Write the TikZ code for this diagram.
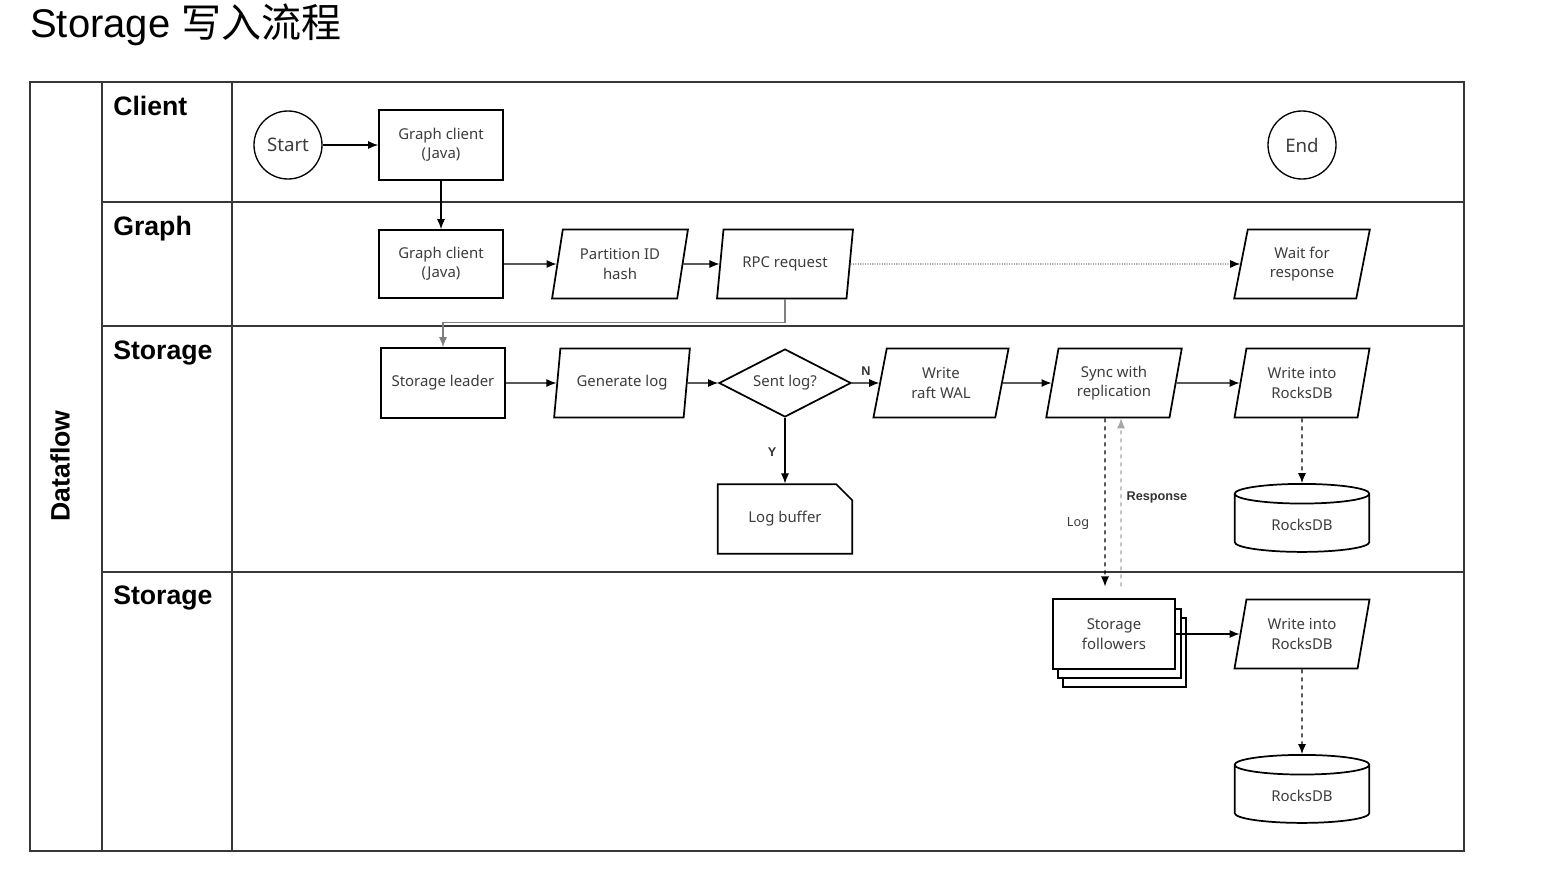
\documentclass[tikz,border=0pt]{standalone}
\usepackage{fontspec}
\setmainfont{Noto Sans}
\newfontfamily\titlefont{Liberation Sans}
\newfontfamily\headfont{Liberation Sans}
\newfontfamily\cjk{Noto Sans CJK SC}
\usetikzlibrary{shapes.geometric,shapes.misc,arrows.meta,shadows}

\definecolor{txtgray}{RGB}{60,60,60}
\definecolor{lanegray}{RGB}{55,55,55}

\tikzset{
	proc/.style={draw, line width=1.3pt, rectangle, minimum width=93pt, minimum height=52.5pt, align=center, text=txtgray, font=\fontsize{11.2}{14.5}\selectfont},
	io/.style={proc, trapezium, trapezium left angle=78, trapezium right angle=102, trapezium stretches=true, minimum width=102pt, minimum height=51.75pt},
	term/.style={proc, circle, minimum size=51pt, inner sep=0pt, line width=1pt, font=\fontsize{14}{16}\selectfont},
	decide/.style={proc, diamond, aspect=2, inner sep=1pt, minimum width=99pt, minimum height=51pt},
	db/.style={proc, cylinder, shape border rotate=90, aspect=0.28, minimum width=101pt, minimum height=51pt},
	lanelabel/.style={anchor=base west, inner sep=0pt, font=\fontsize{20}{22}\headfont\bfseries},
	small/.style={text=txtgray, font=\fontsize{9.5}{11}\selectfont},
	smallbold/.style={text=black!80, font=\fontsize{9.5}{11}\headfont\bfseries},
	arr/.style={-{Latex[length=7.5pt,width=6pt]}, line width=0.8pt},
}

\begin{document}
\begin{tikzpicture}[x=0.75pt,y=0.75pt,yscale=-1,xscale=1]
	\useasboundingbox (0,0) rectangle (1556,881);

	% Title
	\node [anchor=base west, inner sep=0pt, font=\fontsize{30}{34}\selectfont] (title) at (30,38) {\titlefont Storage \cjk 写入流程};

	% Lanes
	\draw [lanegray, line width=1.3pt] (30,82) rectangle (1464,851);
	\draw [lanegray, line width=1.3pt] (102,82) -- (102,851);
	\draw [lanegray, line width=1.3pt] (232,82) -- (232,851);
	\draw [lanegray, line width=1.3pt] (102,202) -- (1464,202);
	\draw [lanegray, line width=1.3pt] (102,326) -- (1464,326);
	\draw [lanegray, line width=1.3pt] (102,572) -- (1464,572);

	\node [rotate=90, font=\fontsize{20}{22}\headfont\bfseries] (flow) at (60,466) {Dataflow};
	\node [lanelabel] (lclient) at (113,115) {Client};
	\node [lanelabel] (lgraph) at (113,235) {Graph};
	\node [lanelabel] (lstore) at (113,359) {Storage};
	\node [lanelabel] (lfollow) at (113,604) {Storage};

	% Client lane
	\node [term] (start) at (288,145) {Start};
	\node [proc] (gclient) at (441,145) {Graph client\\(Java)};
	\node [term] (finish) at (1302,145) {End};

	% Graph lane
	\node [proc, minimum height=51pt] (gservice) at (441,264) {Graph client\\(Java)};
	\node [io] (hash) at (620,264) {Partition ID\\hash};
	\node [io] (rpc) at (785,264) {RPC request};
	\node [io] (wait) at (1302,264) {Wait for\\response};

	% Storage leader lane
	\node [proc] (leader) at (443,383) {Storage leader};
	\node [io] (genlog) at (622,383) {Generate log};
	\node [decide] (sent) at (785,383) {Sent log?};
	\node [io] (wal) at (941,383) {Write\\raft WAL};
	\node [io] (sync) at (1114,383) {Sync with\\replication};
	\node [io] (write) at (1302,383) {Write into\\RocksDB};
	\node [proc, chamfered rectangle, chamfered rectangle corners=north east, chamfered rectangle xsep=6pt, chamfered rectangle ysep=6pt, minimum width=101pt, minimum height=52pt] (buffer) at (785,519) {Log buffer};
	\node [db] (rocks) at (1302,525) {RocksDB};

	% Storage follower lane
	\node [proc, fill=white, minimum width=92pt, minimum height=52pt, double copy shadow={shadow xshift=4pt, shadow yshift=-7pt, draw, fill=white, line width=1.3pt}] (follow) at (1114,634) {Storage\\followers};
	\node [io] (fwrite) at (1302,634) {Write into\\RocksDB};
	\node [db] (frocks) at (1302,796) {RocksDB};

	% Connectors
	\draw [arr] (start) -- (gclient);
	\draw [arr] (gclient) -- (gservice);
	\draw [arr] (gservice) -- (hash);
	\draw [arr] (hash) -- (rpc);
	\draw [arr, densely dotted, line width=0.7pt] (rpc) -- (wait);
	\draw [arr, gray] (rpc.south) -- ++(0,23) -| (leader.north);
	\draw [arr] (leader) -- (genlog);
	\draw [arr] (genlog) -- (sent);
	\draw [arr] (sent) -- (wal);
	\draw [arr] (wal) -- (sync);
	\draw [arr] (sync) -- (write);
	\draw [arr] (sent) -- (buffer);
	\draw [arr, dashed] (write) -- (rocks);
	\draw [arr, dashed, shorten >=9pt] ([xshift=-6.75pt]sync.south) -- ([xshift=-6.75pt]follow.north);
	\draw [arr, dashed, gray!70, shorten <=9pt] ([xshift=5.25pt]follow.north) -- ([xshift=5.25pt]sync.south);
	\draw [arr] (follow) -- (fwrite);
	\draw [arr, dashed] (fwrite) -- (frocks);

	% Edge labels
	\node [smallbold] (nolabel) at (866,371) {N};
	\node [smallbold] (yeslabel) at (772,452) {Y};
	\node [small] (loglabel) at (1078,523) {Log};
	\node [smallbold] (resplabel) at (1157,497) {Response};

\end{tikzpicture}
\end{document}
